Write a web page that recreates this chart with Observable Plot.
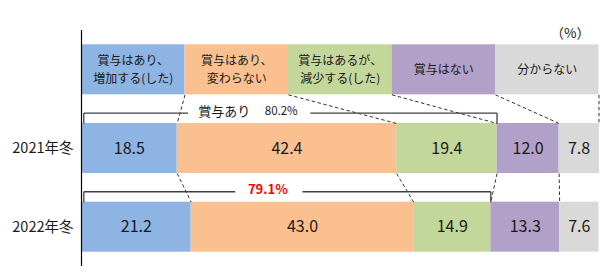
<!DOCTYPE html>
<html>
<head>
<meta charset="utf-8">
<script src="https://cdn.jsdelivr.net/npm/d3@7"></script>
<script src="https://cdn.jsdelivr.net/npm/@observablehq/plot@0.6"></script>
<style>
  html, body { margin: 0; padding: 0; background: #fff; }
  #chart svg { display: block; }
</style>
</head>
<body>
<div id="chart"></div>
<script>
const categories = ["賞与はあり、\n増加する(した)", "賞与はあり、\n変わらない", "賞与はあるが、\n減少する(した)", "賞与はない", "分からない"];
const years = ["2021年冬", "2022年冬"];
const values2021 = [18.5, 42.4, 19.4, 12.0, 7.8];
const values2022 = [21.2, 43.0, 14.9, 13.3, 7.6];
const bonusLabel = "賞与あり";
const bonusTotals = ["80.2%", "79.1%"];
const unitLabel = "（%）";
const segColors = ["#8DB4E2", "#FAC090", "#C4D79B", "#B1A0C7", "#D9D9D9"];

const half = 0.318;

function stack(vals, row) {
  let c = 0;
  return vals.map((v, i) => { const d = {row, i, x1: c, x2: c + v, v}; c += v; return d; });
}
const header = stack(categories.map(() => 100 / categories.length), 0);
const headerLines = [];
header.forEach((d, i) => {
  const parts = categories[i].split("\n");
  parts.forEach((t, li) => headerLines.push({x: (d.x1 + d.x2) / 2, row: 0, text: t, off: (li - (parts.length - 1) / 2) * 18}));
});
const bars = [...stack(values2021, 1), ...stack(values2022, 2)];

// connector links between consecutive rows
const rowsStacks = [header, stack(values2021, 1), stack(values2022, 2)];
const links = [];
for (let r = 0; r < 2; r++) {
  const a = rowsStacks[r], b = rowsStacks[r + 1];
  const n = r === 0 ? a.length : a.length - 1;
  for (let k = 0; k < n; k++) {
    links.push({x1: Math.min(a[k].x2, 100), y1: r + half, x2: Math.min(b[k].x2, 100), y2: r + 1 - half});
  }
}

// brackets over "bonus present" (first three categories)
const bracketTops = [rowsStacks[1][2].x2, rowsStacks[2][2].x2];
const gaps = [[20.6, 44.2], [29.7, 42.7]];
const bracketSegs = [];
bracketTops.forEach((t, k) => {
  const row = k + 1, y = row - 0.45;
  bracketSegs.push({x1: 0.45, x2: gaps[k][0], y1: y, y2: y});
  bracketSegs.push({x1: gaps[k][1], x2: t, y1: y, y2: y});
  bracketSegs.push({x1: 0.45, x2: 0.45, y1: y, y2: row - half});
  bracketSegs.push({x1: t, x2: t, y1: y, y2: row - half});
});

const chart = Plot.plot({
  width: 600,
  height: 280,
  marginLeft: 81,
  marginRight: 1,
  marginTop: 30,
  marginBottom: 14,
  style: {fontFamily: "'Noto Sans CJK JP', 'Noto Sans', sans-serif", background: "#fff"},
  x: {domain: [0, 100.1], axis: null},
  y: {domain: [-0.5, 2.5], reverse: true, axis: null},
  color: {type: "ordinal", domain: [0, 1, 2, 3, 4], range: segColors},
  marks: [
    Plot.rect(header, {x1: "x1", x2: "x2", y1: d => d.row - half, y2: d => d.row + half, fill: "i"}),
    ...headerLines.map(h => Plot.text([h], {x: "x", y: "row", text: "text", dy: h.off, fontSize: 12, fill: "#1a1a1a"})),
    Plot.rect(bars, {x1: "x1", x2: d => Math.min(d.x2, 100.1), y1: d => d.row - half, y2: d => d.row + half, fill: "i"}),
    Plot.text(bars, {x: d => (d.x1 + Math.min(d.x2, 100)) / 2, y: "row", text: d => d.v.toFixed(1), fontSize: 16, fill: "#1a1a1a"}),
    Plot.link(links, {x1: "x1", y1: "y1", x2: "x2", y2: "y2", stroke: "#333", strokeWidth: 1, strokeDasharray: "3.5,2.5"}),
    Plot.link(bracketSegs, {x1: "x1", y1: "y1", x2: "x2", y2: "y2", stroke: "#404040", strokeWidth: 1.3}),
    Plot.text([bonusLabel], {x: 27.6, y: 1 - 0.45, text: d => d, fontSize: 13, dy: -1.5, fill: "#1a1a1a"}),
    Plot.text([bonusTotals[0]], {x: 38.6, y: 1 - 0.45, text: d => d, fontSize: 11.5, dy: -1.5, fill: "#1a1a1a"}),
    Plot.text([bonusTotals[1]], {x: 36.0, y: 2 - 0.45, text: d => d, fontSize: 13, fontWeight: "bold", dy: -1.5, fill: "#FF0000"}),
    Plot.text([unitLabel], {x: 100, y: -0.46, text: d => d, fontSize: 13.5, textAnchor: "end", dx: -9, fill: "#1a1a1a"}),
    Plot.ruleX([0], {stroke: "#000", strokeWidth: 1.2}),
    Plot.axisY({ticks: [1, 2], tickFormat: i => years[i - 1], tickSize: 0, tickPadding: 8, fontSize: 14.5, label: null, fill: "#1a1a1a"})
  ]
});
document.getElementById("chart").appendChild(chart);
</script>
</body>
</html>
